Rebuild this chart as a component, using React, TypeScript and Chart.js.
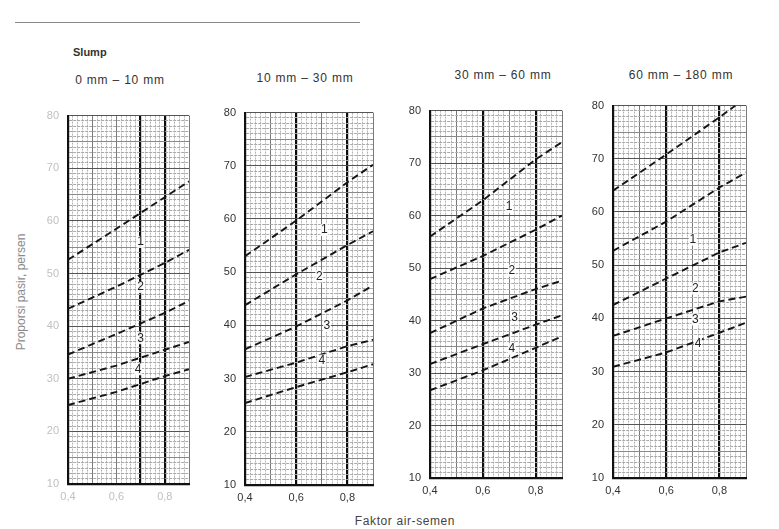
import React, { useEffect, useRef } from "react";
import { Chart, registerables } from "chart.js";

Chart.register(...registerables);

const FONT = '"Liberation Sans", "DejaVu Sans", Arial, sans-serif';

// faktor air-semen values at which the curves were read
const fasReadings = [0.4, 0.6, 0.8, 0.9];
const fasReadingsTop60to180 = [0.4, 0.6, 0.8, 0.86];

const headerText = "Slump";
const panelTitles = ["0 mm – 10 mm", "10 mm – 30 mm", "30 mm – 60 mm", "60 mm – 180 mm"];
const xAxisTitle = "Faktor air-semen";
const yAxisTitle = "Proporsi pasir, persen";
const zoneNames = ["1", "2", "3", "4"];
const xTickValues = [0.4, 0.6, 0.8];
const xTickLabels = ["0,4", "0,6", "0,8"];

// proporsi pasir (%) – boundary curves, top to bottom
const slump0to10 = [
  [52.6, 58.5, 64.5, 67.5],
  [43.3, 47.5, 52.0, 54.5],
  [34.6, 38.5, 42.5, 44.8],
  [30.0, 32.5, 35.5, 37.0],
  [25.0, 27.5, 30.5, 31.8],
];
const slump10to30 = [
  [53.0, 59.7, 66.9, 70.2],
  [43.8, 49.6, 55.1, 57.7],
  [35.5, 39.8, 44.7, 47.5],
  [30.3, 33.0, 36.1, 37.3],
  [25.4, 28.4, 31.2, 32.7],
];
const slump30to60 = [
  [56.0, 62.9, 70.7, 74.0],
  [47.9, 52.3, 57.3, 60.0],
  [37.6, 42.3, 46.0, 47.6],
  [31.7, 35.5, 39.2, 41.0],
  [26.7, 30.5, 34.8, 37.0],
];
const slump60to180 = [
  [64.0, 70.8, 77.8, 80.0],
  [52.7, 58.2, 64.6, 67.4],
  [42.5, 47.5, 52.4, 54.2],
  [36.7, 40.0, 43.2, 44.1],
  [30.9, 33.6, 37.3, 39.2],
];

// zone label anchors [faktor air-semen, proporsi pasir]
const zones0to10 = [[0.7, 56.0], [0.7, 47.4], [0.7, 37.7], [0.69, 31.8]];
const zones10to30 = [[0.71, 57.9], [0.69, 49.2], [0.72, 39.9], [0.7, 33.4]];
const zones30to60 = [[0.7, 61.6], [0.71, 49.5], [0.72, 40.5], [0.71, 34.6]];
const zones60to180 = [[0.7, 54.8], [0.71, 45.6], [0.71, 39.8], [0.72, 35.2]];

type Box = { L: number; R: number; T: number; B: number };
type PanelSpec = {
  lines: number[][];
  xsTop?: number[];
  zones: number[][];
  box: Box;
  faint: boolean;
  heavyX: number[];
};

const AXW = 32;
const PADT = 8;
const PADR = 3;
const AXH = 24;

const near = (a: number, b: number) => Math.abs(a - b) < 1e-6;

function Panel({ spec }: { spec: PanelSpec }) {
  const ref = useRef<HTMLCanvasElement>(null);
  const { L, R, T, B } = spec.box;
  const w = R - L + AXW + PADR;
  const h = B - T + PADT + AXH;

  useEffect(() => {
    const tickCol = spec.faint ? "#c0c0c0" : "#333";
    const zonePlugin = {
      id: "zoneLabels",
      afterDatasetsDraw(chart: any) {
        const { ctx, scales } = chart;
        ctx.save();
        ctx.font = `12px ${FONT}`;
        ctx.textAlign = "center";
        ctx.textBaseline = "middle";
        spec.zones.forEach((p, i) => {
          const px = scales.x.getPixelForValue(p[0]);
          const py = scales.y.getPixelForValue(p[1]);
          ctx.fillStyle = "rgba(255,255,255,0.9)";
          ctx.fillRect(px - 4, py - 6, 8, 12);
          ctx.fillStyle = "#222";
          ctx.fillText(zoneNames[i], px, py);
        });
        ctx.restore();
      },
    };

    const isHeavyX = (v: number) => spec.heavyX.some((t) => near(t, v));
    const isTenthX = (v: number) => near(v * 10, Math.round(v * 10));

    const chart = new Chart(ref.current as HTMLCanvasElement, {
      type: "line",
      data: {
        datasets: spec.lines.map((ys, i) => {
          const xs = i === 0 && spec.xsTop ? spec.xsTop : fasReadings;
          return {
            data: ys.map((y, j) => ({ x: xs[j], y })),
            borderColor: "#151515",
            borderWidth: 1.9,
            borderDash: [7, 4],
            pointRadius: 0,
            tension: 0,
            fill: false,
          };
        }),
      },
      options: {
        responsive: false,
        animation: false,
        devicePixelRatio: 1,
        layout: { padding: { top: PADT, right: PADR, left: 0, bottom: 0 } },
        plugins: {
          legend: { display: false },
          tooltip: { enabled: false },
          title: { display: false },
        },
        scales: {
          x: {
            type: "linear",
            min: 0.4,
            max: 0.9,
            afterFit: (s: any) => {
              s.height = AXH;
            },
            ticks: {
              stepSize: 0.02,
              maxTicksLimit: 1000,
              autoSkip: false,
              maxRotation: 0,
              minRotation: 0,
              padding: 6,
              color: tickCol,
              font: { family: FONT, size: 11 },
              callback: (v: any) => {
                const k = xTickValues.findIndex((t) => near(t, Number(v)));
                return k >= 0 ? xTickLabels[k] : "";
              },
            },
            grid: {
              drawTicks: false,
              color: (c: any) => {
                const v = c.tick ? c.tick.value : 0;
                if (isHeavyX(v)) return "#0d0d0d";
                if (isTenthX(v)) return "#7a7a7a";
                return "#b4b4b4";
              },
              lineWidth: (c: any) => {
                const v = c.tick ? c.tick.value : 0;
                return isHeavyX(v) ? 2.2 : 1;
              },
            },
            border: {
              display: true,
              color: "#111",
              width: 2.2,
              dash: (c: any) => {
                if (!c.tick) return [];
                const v = c.tick.value;
                return isHeavyX(v) || isTenthX(v) ? [] : [2, 1];
              },
            },
          },
          y: {
            type: "linear",
            min: 10,
            max: 80,
            afterFit: (s: any) => {
              s.width = AXW;
            },
            ticks: {
              stepSize: 1,
              maxTicksLimit: 1000,
              autoSkip: false,
              padding: 9,
              color: tickCol,
              font: { family: FONT, size: 11 },
              callback: (v: any) => (Math.round(Number(v)) % 10 === 0 ? String(Math.round(Number(v))) : ""),
            },
            grid: {
              z: -1,
              drawTicks: false,
              color: (c: any) => {
                const v = c.tick ? Math.round(c.tick.value) : 0;
                if (v % 10 === 0) return "#555";
                if (v % 5 === 0) return "#8a8a8a";
                return "#a9a9a9";
              },
              lineWidth: 1,
            },
            border: {
              display: true,
              color: "#111",
              width: 2.2,
              dash: (c: any) => {
                if (!c.tick) return [];
                const v = Math.round(c.tick.value);
                return v % 5 === 0 ? [] : [3, 1];
              },
            },
          },
        },
      } as any,
      plugins: [zonePlugin],
    });
    return () => chart.destroy();
  }, []);

  return (
    <canvas
      ref={ref}
      width={w}
      height={h}
      style={{ position: "absolute", left: L - AXW, top: T - PADT, width: w, height: h }}
    />
  );
}

const panelSpecs: PanelSpec[] = [
  { lines: slump0to10, zones: zones0to10, box: { L: 68, R: 192, T: 108, B: 484 }, faint: true, heavyX: [0.7, 0.8] },
  { lines: slump10to30, zones: zones10to30, box: { L: 245, R: 376, T: 105, B: 485 }, faint: false, heavyX: [0.6, 0.8] },
  { lines: slump30to60, zones: zones30to60, box: { L: 430, R: 565, T: 103, B: 478 }, faint: false, heavyX: [0.6, 0.8] },
  {
    lines: slump60to180,
    xsTop: fasReadingsTop60to180,
    zones: zones60to180,
    box: { L: 613, R: 749, T: 98, B: 478 },
    faint: false,
    heavyX: [0.6, 0.8],
  },
];

const titleCenters = [
  [120, 80],
  [305, 78],
  [503, 75],
  [681, 75],
];

export default function App() {
  const centered = (x: number, y: number): React.CSSProperties => ({
    position: "absolute",
    left: x,
    top: y,
    transform: "translate(-50%, -50%)",
    whiteSpace: "nowrap",
  });
  return (
    <div
      style={{
        position: "absolute",
        left: 0,
        top: 0,
        width: 779,
        height: 529,
        background: "#fff",
        overflow: "hidden",
        fontFamily: FONT,
        color: "#333",
      }}
    >
      <div style={{ position: "absolute", left: 15, top: 22, width: 345, borderTop: "1px solid #8a8a8a" }} />
      <div style={{ position: "absolute", left: 73, top: 46, fontSize: 11, fontWeight: 700, color: "#333" }}>
        {headerText}
      </div>
      {panelTitles.map((t, i) => (
        <div key={t} style={{ ...centered(titleCenters[i][0], titleCenters[i][1]), fontSize: 12, letterSpacing: 0.8 }}>
          {t}
        </div>
      ))}
      {panelSpecs.map((s, i) => (
        <Panel key={i} spec={s} />
      ))}
      <div
        style={{
          ...centered(21, 292),
          transform: "translate(-50%, -50%) rotate(-90deg)",
          fontSize: 12,
          color: "#8a8a8a",
        }}
      >
        {yAxisTitle}
      </div>
      <div style={{ ...centered(405, 521), fontSize: 12, letterSpacing: 0.6, color: "#444" }}>{xAxisTitle}</div>
    </div>
  );
}
